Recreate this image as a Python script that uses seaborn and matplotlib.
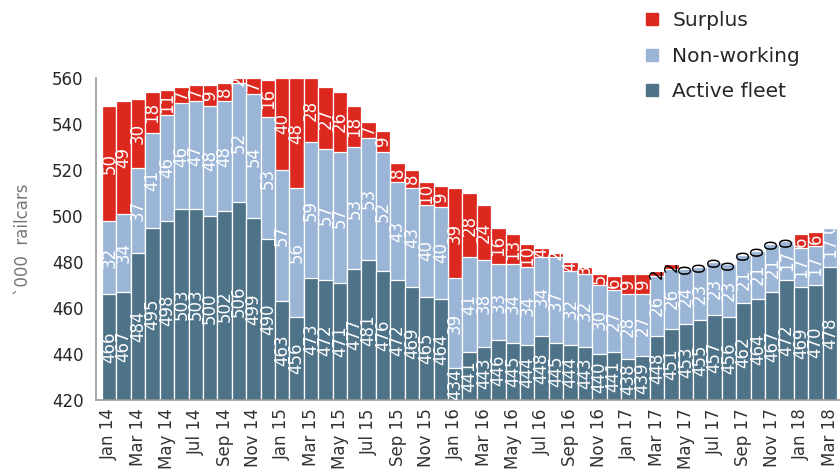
import numpy as np
import pandas as pd
import matplotlib.pyplot as plt
from matplotlib.lines import Line2D
import seaborn as sns

# months Jan 14 .. Mar 18
months = pd.date_range("2014-01-01", "2018-03-01", freq="MS").strftime("%b %y").tolist()

active = [466, 467, 484, 495, 498, 503, 503, 500, 502, 506, 499, 490,
          463, 456, 473, 472, 471, 477, 481, 476, 472, 469, 465, 464,
          434, 441, 443, 446, 445, 444, 448, 445, 444, 443, 440, 441,
          438, 439, 448, 451, 453, 455, 457, 456, 462, 464, 467, 472,
          469, 470, 478]
non_working = [32, 34, 37, 41, 46, 46, 47, 48, 48, 52, 54, 53,
               57, 56, 59, 57, 57, 53, 53, 52, 43, 43, 40, 40,
               39, 41, 38, 33, 34, 34, 34, 37, 32, 32, 30, 27,
               28, 27, 26, 26, 24, 23, 23, 23, 21, 21, 21, 17,
               17, 17, 17]
surplus = [50, 49, 30, 18, 11, 7, 7, 9, 8, 2, 7, 16,
           40, 48, 28, 27, 26, 18, 7, 9, 8, 8, 10, 9,
           39, 28, 24, 16, 13, 10, 4, 2, 4, 3, 5, 6,
           9, 9, 2, 2, 0, 0, 0, 0, 0, 0, 0, 0,
           6, 6, 0]

dark = "#4e7389"
light = "#9bb5d7"
red = "#dc281e"

df = pd.DataFrame({"month": months, "active": active,
                   "non_working": non_working, "surplus": surplus})
df["mid"] = df["active"] + df["non_working"]
df["total"] = df["mid"] + df["surplus"]

sns.set_style("white")
plt.rcParams["font.family"] = ["DejaVu Sans"]

fig = plt.figure(figsize=(8.4, 4.75), dpi=100)
ax = fig.add_axes([96 / 840, 1 - 400 / 475, 744 / 840, (400 - 78) / 475])

# stacked bars drawn back to front
for col, c in [("total", red), ("mid", light), ("active", dark)]:
    sns.barplot(data=df, x="month", y=col, order=months, color=c, width=1.0,
                edgecolor="white", linewidth=0.9, saturation=1, ax=ax)

# value labels inside segments
x = np.arange(len(months))
for i in x:
    segs = [(420, active[i], active[i]),
            (active[i], df["mid"][i], non_working[i]),
            (df["mid"][i], df["total"][i], surplus[i])]
    for k, (lo, hi, v) in enumerate(segs):
        # 2017 small surplus labels show up dark above the bars
        col = "black" if (k == 2 and v <= 2 and 36 < i < 50) else "white"
        ax.text(i, (lo + hi) / 2, str(v), rotation=90, ha="center", va="center",
                color=col, fontsize=12, clip_on=True)

ax.set_ylim(420, 560)
ax.set_xlim(-0.92, 50.7)
ax.set_yticks(range(420, 561, 20))
ax.set_xticks(x[::2])
ax.set_xticklabels(months[::2], rotation=90, fontsize=12, color="#333333")
ax.set_xticks(x[::2] - 0.5, minor=True)
ax.tick_params(axis="x", which="major", length=0, pad=6)
ax.tick_params(axis="x", which="minor", length=5, color="#999999", width=1.2)
ax.tick_params(axis="y", length=4, color="#999999", labelsize=12, pad=5)
ax.set_xlabel("")
ax.set_ylabel("`000  railcars", fontsize=12, color="#777777", labelpad=14)
sns.despine(ax=ax)
for s in ["left", "bottom"]:
    ax.spines[s].set_color("#999999")
    ax.spines[s].set_linewidth(1.2)

handles = [Line2D([], [], marker="s", ls="", color=c, markersize=8)
           for c in [red, light, dark]]
fig.legend(handles, ["Surplus", "Non-working", "Active fleet"], loc="upper left",
           bbox_to_anchor=(624 / 840, 1.014), frameon=False, fontsize=14.5,
           handletextpad=0.5, labelspacing=0.8, handlelength=1.0)

fig.savefig("out.png", dpi=100)
